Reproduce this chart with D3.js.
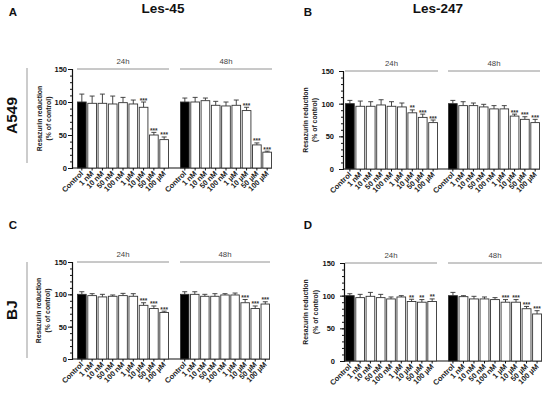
<!DOCTYPE html>
<html>
<head>
<meta charset="utf-8">
<script src="https://cdn.jsdelivr.net/npm/d3@7"></script>
<style>
  body { margin: 0; background: #fff; }
  svg { font-family: "Liberation Sans", Arial, sans-serif; }
</style>
</head>
<body>
<div id="chart"></div>
<script>
var concentrations = ["Control", "1 nM", "10 nM", "50 nM", "100 nM", "1 µM", "10 µM", "50 µM", "100 µM"];
var times = ["24h", "48h"];
var yTicks = [0, 50, 100, 150];

// Les-45 / A549
var a24 = [100, 98, 98, 97, 99, 97, 92, 50, 43];
var a24err = [12, 11, 14, 12, 8, 6, 8, 4, 4];
var a24sig = ["", "", "", "", "", "", "***", "***", "***"];
var a48 = [100, 100, 102, 95, 94, 95, 87, 35, 24];
var a48err = [6, 7, 4, 6, 6, 8, 5, 3, 1.5];
var a48sig = ["", "", "", "", "", "", "***", "***", "***"];

// Les-247 / A549
var b24 = [100, 96, 96, 98, 96, 95, 86, 79, 71];
var b24err = [5, 8, 7, 8, 7, 6, 4.5, 5, 4];
var b24sig = ["", "", "", "", "", "", "**", "***", "***"];
var b48 = [100, 97, 97, 95, 92, 92, 81, 76, 71];
var b48err = [5, 6, 4, 4, 5, 5, 3, 4, 5];
var b48sig = ["", "", "", "", "", "", "***", "***", "***"];

// Les-45 / BJ
var c24 = [100, 98, 96, 97, 98, 97, 83, 78, 72];
var c24err = [4, 3, 4, 2, 3.5, 4, 4, 4, 2];
var c24sig = ["", "", "", "", "", "", "***", "***", "***"];
var c48 = [100, 100, 97, 97, 99, 99, 87, 78, 85];
var c48err = [4, 4, 3, 4, 2, 3, 5, 4, 3.5];
var c48sig = ["", "", "", "", "", "", "***", "***", "***"];

// Les-247 / BJ
var d24 = [100, 97, 99, 97, 95, 98, 91, 90, 91];
var d24err = [3, 5, 6, 5, 3, 2, 3.5, 4, 4];
var d24sig = ["", "", "", "", "", "", "**", "**", "**"];
var d48 = [100, 98.5, 95, 95, 94, 90, 90, 80, 72];
var d48err = [5, 1.5, 4, 3, 3, 4, 4, 3.5, 5];
var d48sig = ["", "", "", "", "", "***", "***", "***", "***"];

var W = 550, H = 393;
var svg = d3.select("#chart").append("svg")
  .attr("width", W)
  .attr("height", H);

var panels = [
  {letter: "A", lx: 13, ly: 16, axisX: 72, yTop: 69, yBot: 168, g1: [77, 169], g2: [180, 272],
   pad: 1, lab1: 30, lab2: 21,
   data: [[a24, a24err, a24sig], [a48, a48err, a48sig]]},
  {letter: "B", lx: 308, ly: 16, axisX: 343, yTop: 71, yBot: 169, g1: [345, 438], g2: [448, 540],
   pad: 5, lab1: 35, lab2: 26,
   data: [[b24, b24err, b24sig], [b48, b48err, b48sig]]},
  {letter: "C", lx: 13, ly: 229, axisX: 72, yTop: 262, yBot: 359, g1: [77, 169], g2: [180, 270],
   pad: 1, lab1: 31, lab2: 22,
   data: [[c24, c24err, c24sig], [c48, c48err, c48sig]]},
  {letter: "D", lx: 308, ly: 229, axisX: 344, yTop: 263, yBot: 361, g1: [345, 437], g2: [448, 542],
   pad: 5, lab1: 36, lab2: 26,
   data: [[d24, d24err, d24sig], [d48, d48err, d48sig]]}
];

// column titles
svg.append("text").attr("x", 163).attr("y", 13).attr("text-anchor", "middle")
  .attr("font-size", 13.5).attr("font-weight", "bold").attr("fill", "#111").text("Les-45");
svg.append("text").attr("x", 438).attr("y", 13).attr("text-anchor", "middle")
  .attr("font-size", 13.5).attr("font-weight", "bold").attr("fill", "#111").text("Les-247");

// row labels
var rows = [{name: "A549", y0: 68, y1: 163}, {name: "BJ", y0: 262, y1: 358}];
rows.forEach(function(r) {
  svg.append("line").attr("x1", 27).attr("x2", 27).attr("y1", r.y0).attr("y2", r.y1)
    .attr("stroke", "#999").attr("stroke-width", 1);
  svg.append("text")
    .attr("transform", "translate(17," + ((r.y0 + r.y1) / 2) + ") rotate(-90)")
    .attr("text-anchor", "middle")
    .attr("font-size", 15.5).attr("font-weight", "bold").attr("fill", "#111").text(r.name);
});

panels.forEach(function(p) {
  var g = svg.append("g");

  g.append("text").attr("x", p.lx).attr("y", p.ly).attr("text-anchor", "middle")
    .attr("font-size", 11.5).attr("font-weight", "bold").attr("fill", "#111").text(p.letter);

  var y = d3.scaleLinear().domain([0, 150]).range([p.yBot, p.yTop]);

  // y axis with minor ticks
  var yAxis = g.append("g").attr("transform", "translate(" + p.axisX + ",0)")
    .call(d3.axisLeft(y).tickValues(yTicks).tickSize(4).tickPadding(p.pad));
  yAxis.selectAll("text").attr("font-size", 7.5).attr("font-weight", "bold")
    .attr("font-family", "Liberation Sans, Arial, sans-serif").attr("fill", "#111");
  yAxis.select(".domain").attr("stroke", "#111").attr("stroke-width", 1.2);
  yAxis.selectAll(".tick line").attr("stroke", "#111");
  g.append("g").attr("transform", "translate(" + p.axisX + ",0)")
    .call(d3.axisLeft(y).tickValues(d3.range(0, 151, 10)).tickSize(2).tickFormat(""))
    .call(function(s) { s.select(".domain").remove(); s.selectAll("line").attr("stroke", "#111"); });

  // y label
  var ymid = (p.yTop + p.yBot) / 2;
  g.append("text").attr("transform", "translate(" + (p.axisX - p.lab1) + "," + ymid + ") rotate(-90)")
    .attr("text-anchor", "middle").attr("font-size", 6.8).attr("font-weight", "bold")
    .attr("fill", "#222").text("Resazurin reduction");
  g.append("text").attr("transform", "translate(" + (p.axisX - p.lab2) + "," + ymid + ") rotate(-90)")
    .attr("text-anchor", "middle").attr("font-size", 6.8).attr("font-weight", "bold")
    .attr("fill", "#222").text("(% of control)");

  // baseline across both groups
  g.append("line").attr("x1", p.axisX).attr("x2", p.g2[1])
    .attr("y1", p.yBot).attr("y2", p.yBot).attr("stroke", "#111").attr("stroke-width", 1.2);

  [p.g1, p.g2].forEach(function(range, gi) {
    var x = d3.scaleBand().domain(concentrations).range(range).paddingInner(0.06);
    var vals = p.data[gi][0], errs = p.data[gi][1], sigs = p.data[gi][2];
    var rowsData = concentrations.map(function(c, i) {
      return {c: c, v: vals[i], e: errs[i], s: sigs[i]};
    });

    // group bracket line and label
    g.append("line").attr("x1", range[0]).attr("x2", range[1])
      .attr("y1", p.yTop).attr("y2", p.yTop).attr("stroke", "#777").attr("stroke-width", 0.8);
    g.append("text").attr("x", (range[0] + range[1]) / 2).attr("y", p.yTop - 5)
      .attr("text-anchor", "middle").attr("font-size", 7.8).attr("fill", "#444").text(times[gi]);

    // error bars
    var eb = g.selectAll(".eb" + gi).data(rowsData).enter().append("g");
    eb.append("line")
      .attr("x1", function(d) { return x(d.c) + x.bandwidth() / 2; })
      .attr("x2", function(d) { return x(d.c) + x.bandwidth() / 2; })
      .attr("y1", function(d) { return y(d.v); })
      .attr("y2", function(d) { return y(d.v + d.e); })
      .attr("stroke", "#333").attr("stroke-width", 0.9);
    eb.append("line")
      .attr("x1", function(d) { return x(d.c) + x.bandwidth() / 2 - 2.5; })
      .attr("x2", function(d) { return x(d.c) + x.bandwidth() / 2 + 2.5; })
      .attr("y1", function(d) { return y(d.v + d.e); })
      .attr("y2", function(d) { return y(d.v + d.e); })
      .attr("stroke", "#333").attr("stroke-width", 0.9);

    // bars
    g.selectAll(".bar" + gi).data(rowsData).enter().append("rect")
      .attr("x", function(d) { return x(d.c) + 0.5; })
      .attr("width", x.bandwidth() - 1)
      .attr("y", function(d) { return y(d.v); })
      .attr("height", function(d) { return y(0) - y(d.v); })
      .attr("fill", function(d, i) { return i === 0 ? "#000" : "#fff"; })
      .attr("stroke", "#333").attr("stroke-width", 0.9);

    // significance
    g.selectAll(".sig" + gi).data(rowsData).enter().append("text")
      .attr("x", function(d) { return x(d.c) + x.bandwidth() / 2; })
      .attr("y", function(d) { return y(d.v + d.e) + 0.5; })
      .attr("text-anchor", "middle").attr("font-size", 6.5).attr("font-weight", "bold")
      .attr("fill", "#333")
      .text(function(d) { return d.s; });

    // x ticks and labels
    g.selectAll(".xt" + gi).data(concentrations).enter().append("line")
      .attr("x1", function(d) { return x(d) + x.bandwidth() / 2; })
      .attr("x2", function(d) { return x(d) + x.bandwidth() / 2; })
      .attr("y1", p.yBot).attr("y2", p.yBot + 2.5)
      .attr("stroke", "#111");
    g.selectAll(".xl" + gi).data(concentrations).enter().append("text")
      .attr("transform", function(d) {
        return "translate(" + (x(d) + x.bandwidth() / 2 + 2) + "," + (p.yBot + 6) + ") rotate(-45)";
      })
      .attr("text-anchor", "end").attr("font-size", 7.5).attr("font-weight", "bold")
      .attr("fill", "#222").text(function(d) { return d; });
  });
});
</script>
</body>
</html>
